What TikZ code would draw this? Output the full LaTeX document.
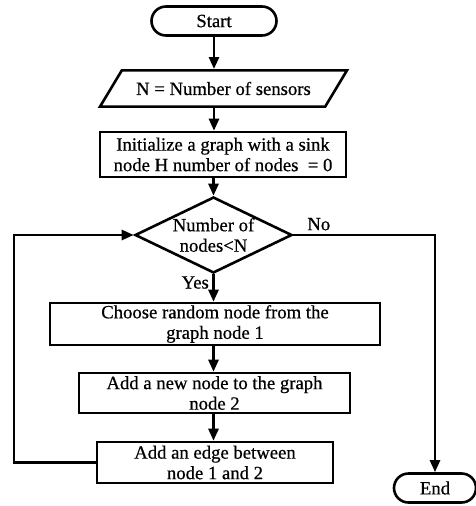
\documentclass[tikz,border=0pt]{standalone}
\usepackage{fontspec}
\setmainfont{Liberation Serif}[FakeBold=0.6]
\usetikzlibrary{calc,shapes.geometric,shapes.misc,arrows.meta}

\begin{document}
\begin{tikzpicture}[x=1pt,y=-1pt,line width=2.6pt,
                    font={\fontsize{18.7}{20.5}\selectfont},
                    block/.style={draw,rectangle,inner sep=0pt,align=center},
                    terminal/.style={draw,rounded rectangle,inner sep=0pt},
                    io/.style={draw,trapezium,trapezium left angle=59,trapezium right angle=121,
                               trapezium stretches body,inner xsep=0pt,inner ysep=11.5pt},
                    decision/.style={draw,diamond,aspect=2,inner sep=0pt,align=center},
                    flow/.style={-{Triangle[width=10pt,length=12pt]}}]
            \useasboundingbox (0,0) rectangle (476,506);

            \node[terminal,minimum width=125pt,minimum height=29pt] (start) at (214,21) {Start};

            \node[io,minimum width=247pt] (input) at (223.5,88.5) {N = Number of sensors};

            \node[block,minimum width=246pt,minimum height=45pt] (init) at (223,154.5) {
                Initialize a graph with a sink\\
                node H number of nodes~ = 0
            };

            \node[decision,minimum width=157pt,minimum height=76pt] (dec) at (213.5,235) {
                Number of\\
                nodes<N
            };

            \node[block,minimum width=330pt,minimum height=42pt] (choose) at (215,324) {
                Choose random node from the\\
                graph node 1
            };

            \node[block,minimum width=271pt,minimum height=40pt] (addnode) at (214.5,393) {
                Add a new node to the graph\\
                node 2
            };

            \node[block,minimum width=236pt,minimum height=41pt] (addedge) at (215,462.5) {
                Add an edge between\\
                node 1 and 2
            };

            \node[terminal,minimum width=82pt,minimum height=29pt] (end) at (435,488) {End};

            \coordinate (loopx) at (14,0);

            \draw[flow] (start.south) -- (start.south |- input.north);
            \draw[flow] (start.south |- input.south) -- (start.south |- init.north);
            \draw[flow] (dec.north |- init.south) -- (dec.north);
            \draw[flow] (dec.south) -- node[pos=0.3,left] {Yes} (dec.south |- choose.north);
            \draw[flow] (dec.south |- choose.south) -- (dec.south |- addnode.north);
            \draw[flow] (dec.south |- addnode.south) -- (dec.south |- addedge.north);
            \draw[flow] (addedge.west) -- (addedge.west -| loopx) |- (dec.west);
            \draw[flow] (dec.east) -| node[pos=0.09,above] {No} (end.north);
        \end{tikzpicture}
\end{document}
